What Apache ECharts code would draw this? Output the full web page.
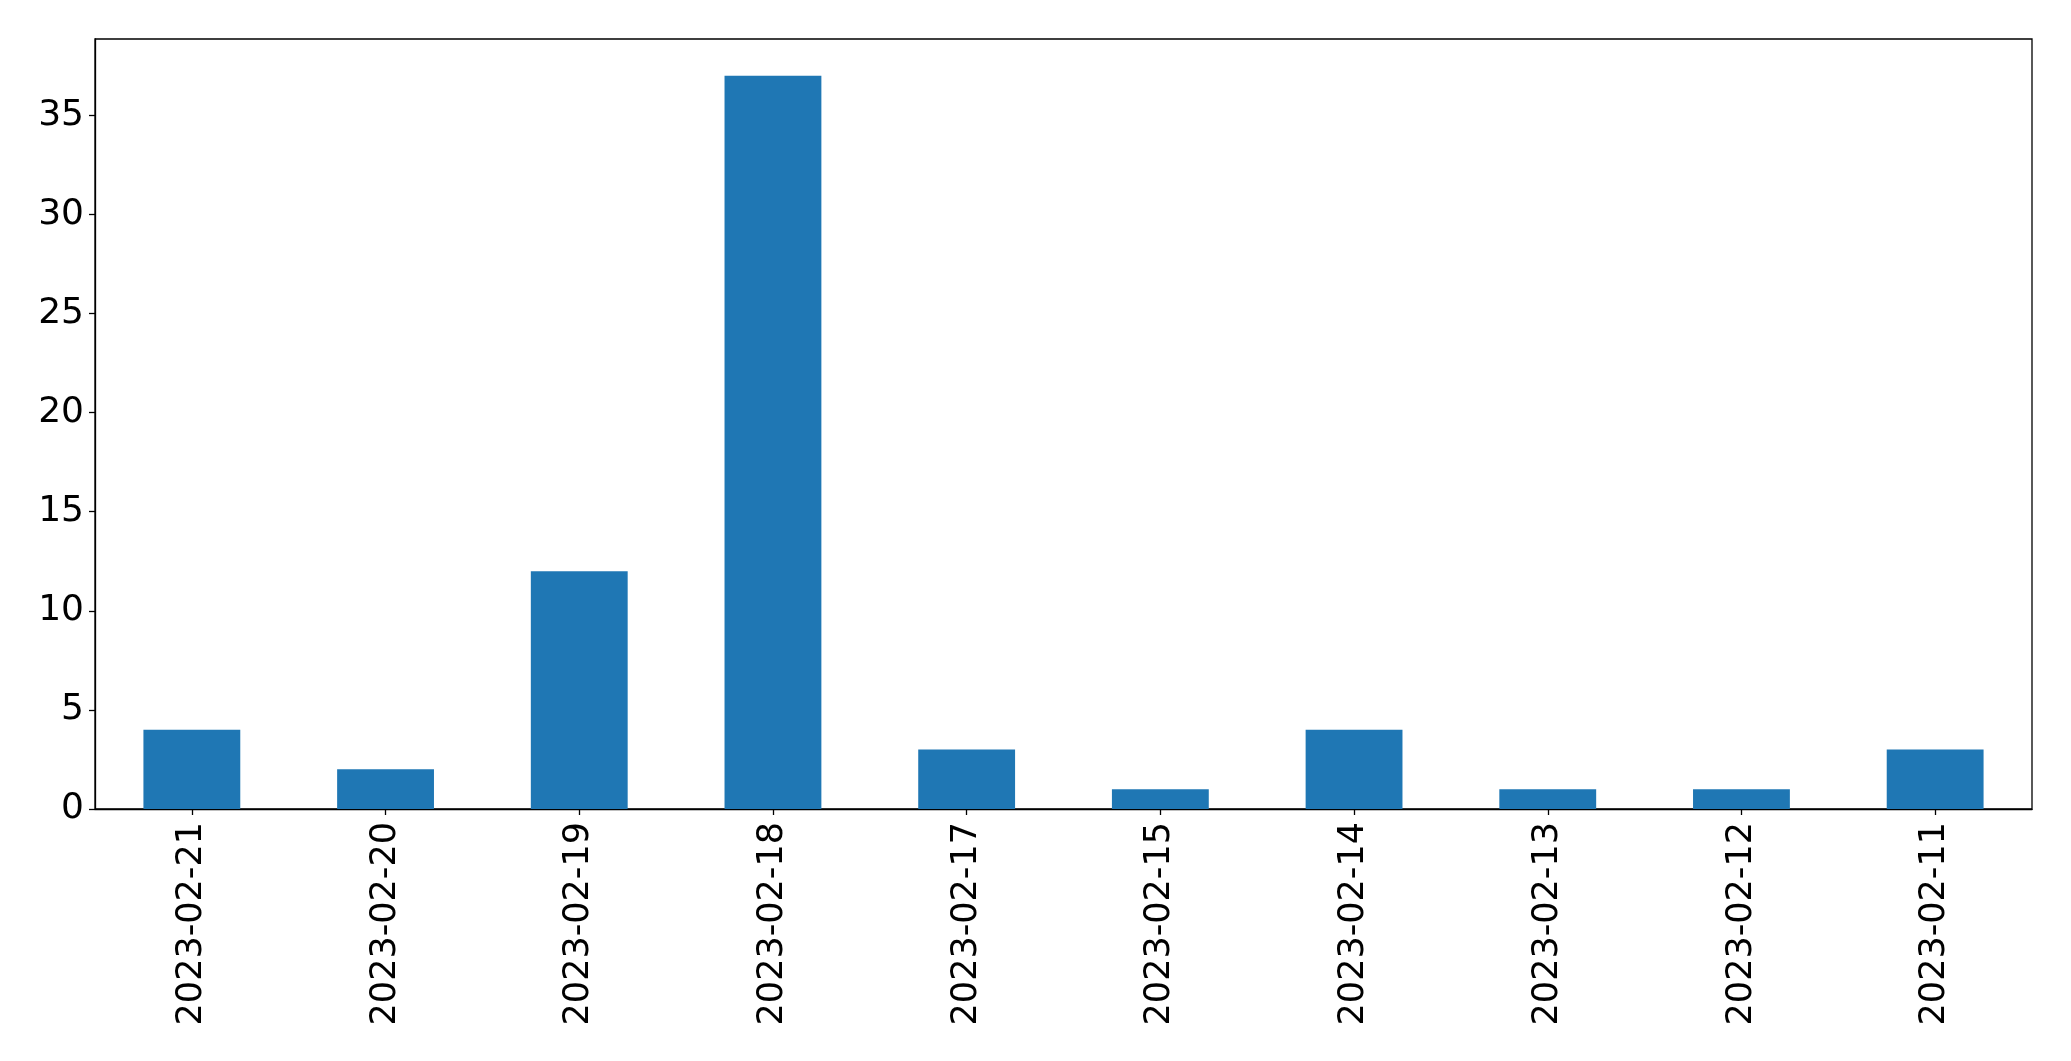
<!DOCTYPE html>
<html>
<head>
<meta charset="utf-8">
<script src="https://cdn.jsdelivr.net/npm/echarts@6/dist/echarts.min.js"></script>
<style>
html,body{margin:0;padding:0;background:#fff;}
#chart{width:2071px;height:1061px;}
</style>
</head>
<body>
<div id="chart"></div>
<script>
const categories = ["2023-02-21","2023-02-20","2023-02-19","2023-02-18","2023-02-17","2023-02-15","2023-02-14","2023-02-13","2023-02-12","2023-02-11"];
const values = [4, 2, 12, 37, 3, 1, 4, 1, 1, 3];
const yTicks = [0, 5, 10, 15, 20, 25, 30, 35];

const chart = echarts.init(document.getElementById('chart'), null, {renderer: 'canvas'});
const font = 'DejaVu Sans';
chart.setOption({
  animation: false,
  backgroundColor: '#ffffff',
  grid: {
    left: 95, right: 39, top: 39, bottom: 252,
    show: true, borderColor: '#000', borderWidth: 1.3, backgroundColor: 'transparent'
  },
  xAxis: {
    type: 'category',
    data: categories,
    boundaryGap: true,
    axisLine: {show: true, lineStyle: {color: '#000', width: 1.3}},
    axisTick: {show: true, alignWithLabel: true, length: 6, lineStyle: {color: '#000', width: 1.3}},
    axisLabel: {rotate: 90, interval: 0, margin: 13, color: '#000', fontSize: 35, fontFamily: font},
    splitLine: {show: false}
  },
  yAxis: {
    type: 'value',
    min: 0,
    max: 38.85,
    interval: 5,
    axisLine: {show: true, lineStyle: {color: '#000', width: 1.3}},
    axisTick: {show: true, length: 6, lineStyle: {color: '#000', width: 1.3}},
    axisLabel: {
      margin: 11, color: '#000', fontSize: 36, fontFamily: font,
      showMaxLabel: false,
      formatter: function (v) { return yTicks.indexOf(v) >= 0 ? String(v) : ''; }
    },
    splitLine: {show: false}
  },
  series: [{
    type: 'bar',
    data: values,
    barWidth: '50%',
    itemStyle: {color: '#1f77b4'}
  }]
});
</script>
</body>
</html>
